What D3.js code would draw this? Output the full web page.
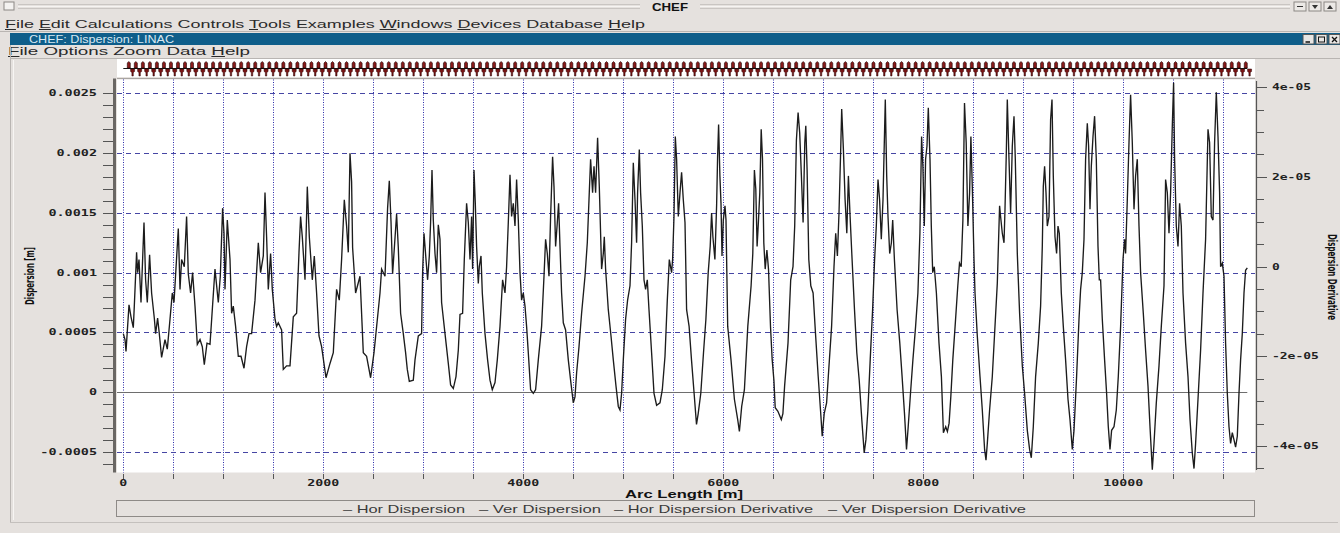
<!DOCTYPE html>
<html><head><meta charset="utf-8">
<script src="https://cdn.jsdelivr.net/npm/d3@7"></script>
<style>
html,body{margin:0;padding:0;background:#e5e1de;overflow:hidden}
svg{display:block}
</style></head><body>
<svg id="c" width="1340" height="533"></svg>
<script>
// ---------------- DATA ----------------
const arcLength = [0,17,27,57,77,100,110,133,143,157,177,207,223,240,263,283,310,323,343,360,383,417,440,467,490,507,
550,567,583,610,633,650,673,693,717,740,767,790,810,837,867,917,950,970,993,1007,1017,1040,1067,1083,1100,1123,1150,1177,1207,1233,1257,1283,
1317,1350,1373,1400,1417,1433,1450,1473,1490,1517,1533,1550,1583,1600,1633,1667,1700,1733,1757,1773,1790,1817,1840,1860,1890,1910,1933,1957,1983,
2027,2067,2100,2133,2160,2183,2210,2233,2250,2267,2283,2293,2323,2367,2400,2433,2473,2507,2567,2583,2617,2643,2660,2677,2693,2733,2750,2773,
2800,2823,2840,2860,2900,2917,2950,2983,2993,3007,3027,3043,3060,3073,3087,3100,3117,3133,3150,3167,3183,3217,3250,3273,3300,3327,3350,3367,3393,
3410,3433,3450,3467,3483,3493,3507,3520,3533,3550,3560,3577,3590,3617,3643,3667,3690,3717,3740,3767,3793,3817,3833,3850,3867,3883,3900,3917,3933,3950,3967,3983,
4000,4017,4033,4050,4073,4100,4123,4150,4183,4207,4223,4240,4257,4273,4293,4307,4323,4340,4353,4367,4383,4400,4423,4450,4473,4500,4517,4533,4557,4583,
4617,4640,4657,4673,4693,4707,4723,4743,4760,4773,4783,4800,4810,4823,4850,4877,4900,4927,4950,4967,4983,
5000,5023,5043,5067,5083,5100,5117,5133,5143,5160,5173,5190,5207,5223,5240,5257,5283,5307,5333,5367,5390,5417,5440,5460,5483,5493,5507,5520,5533,5550,5567,5583,5600,5617,5633,5658,
5682,5708,5732,5749,5775,5802,5826,5849,5869,5883,5896,5916,5933,5943,5953,5966,5977,5987,6000,6017,6027,6044,6077,6111,6144,6161,6184,6211,6245,6278,6295,
6311,6325,6338,6352,6365,6379,6392,6405,6419,6436,6452,6472,6489,6506,6519,6546,6580,6596,6613,6647,6674,6697,6714,6731,6748,6764,6781,6798,6815,6825,6838,6855,6875,6898,6922,6949,6976,6989,
7009,7033,7050,7083,7107,7124,7141,7157,7174,7184,7201,7218,7235,7251,7268,7285,7312,7335,7359,7385,7409,7426,7446,7469,7493,7513,7530,7547,7563,7580,7597,7610,7620,7634,7647,7664,7681,7694,7711,7738,7765,7788,7812,7832,7849,7872,7896,7923,7946,7966,7983,7996,
8010,8023,8037,8050,8067,8080,8094,8110,8131,8157,8181,8201,8224,8241,8258,8275,8295,8318,8345,8362,8379,8396,8412,8429,8446,8463,8476,8490,8507,8517,
8540,8567,8590,8613,8627,8640,8663,8690,8713,8740,8763,8773,8790,8807,8817,8830,8840,8857,8873,8890,8907,8920,8940,8963,8990,
9013,9040,9063,9080,9100,9123,9150,9173,9190,9200,9213,9227,9240,9257,9273,9287,9300,9317,9333,9347,9360,9380,9400,9423,9447,9467,9490,9507,9533,9557,9573,9590,
9607,9623,9640,9653,9667,9680,9697,9713,9730,9747,9760,9773,9790,9813,9833,9850,9867,9883,9907,9930,9950,9973,9997,
10013,10023,10040,10057,10073,10090,10107,10123,10140,10157,10173,10200,10223,10247,10267,10290,10307,10330,10357,10380,10407,10423,10440,10457,10473,10490,10503,10513,10530,10547,10563,10580,10597,
10623,10647,10667,10690,10707,10723,10747,10773,10797,10823,10847,10863,10880,10897,10913,10930,10947,10963,10973,10990,
11007,11023,11040,11057,11073,11090,11107,11123,11140,11157,11173,11190,11207,11223,11240];

const horDispersion = [0.49e-3,0.44e-3,0.34e-3,0.73e-3,0.63e-3,0.54e-3,0.72e-3,1.17e-3,1.00e-3,1.11e-3,0.75e-3,1.42e-3,0.94e-3,0.75e-3,1.15e-3,0.83e-3,0.62e-3,0.49e-3,0.62e-3,0.49e-3,0.29e-3,0.44e-3,0.36e-3,0.61e-3,0.83e-3,0.75e-3,
1.37e-3,0.86e-3,1.11e-3,1.05e-3,1.47e-3,0.99e-3,0.83e-3,1.00e-3,0.72e-3,0.40e-3,0.44e-3,0.38e-3,0.23e-3,0.41e-3,0.40e-3,1.03e-3,0.75e-3,0.97e-3,1.54e-3,1.33e-3,0.86e-3,1.44e-3,1.11e-3,0.66e-3,0.72e-3,0.55e-3,0.30e-3,0.30e-3,0.20e-3,0.38e-3,0.49e-3,0.49e-3,
0.77e-3,1.25e-3,1.00e-3,1.14e-3,1.67e-3,1.30e-3,0.86e-3,1.16e-3,0.86e-3,0.61e-3,0.55e-3,0.58e-3,0.52e-3,0.19e-3,0.22e-3,0.22e-3,0.63e-3,0.66e-3,1.17e-3,1.47e-3,1.30e-3,0.94e-3,1.72e-3,1.30e-3,0.94e-3,1.14e-3,0.83e-3,0.47e-3,0.38e-3,
0.12e-3,0.24e-3,0.33e-3,0.86e-3,0.77e-3,1.11e-3,1.61e-3,1.39e-3,1.17e-3,2.00e-3,1.76e-3,1.21e-3,0.83e-3,0.97e-3,0.33e-3,0.30e-3,0.12e-3,0.33e-3,0.83e-3,1.03e-3,0.97e-3,1.54e-3,1.77e-3,1.43e-3,0.99e-3,1.49e-3,1.21e-3,0.66e-3,
0.49e-3,0.33e-3,0.19e-3,0.09e-3,0.10e-3,0.27e-3,0.47e-3,0.49e-3,1.00e-3,1.33e-3,1.11e-3,0.94e-3,1.14e-3,1.42e-3,1.86e-3,1.44e-3,1.16e-3,1.00e-3,1.40e-3,1.28e-3,0.75e-3,0.49e-3,0.24e-3,0.06e-3,0.03e-3,0.13e-3,0.35e-3,0.65e-3,0.66e-3,
1.11e-3,1.58e-3,1.42e-3,1.11e-3,1.47e-3,1.03e-3,1.86e-3,1.58e-3,1.22e-3,0.91e-3,1.05e-3,1.14e-3,0.83e-3,0.49e-3,0.27e-3,0.10e-3,0.02e-3,0.08e-3,0.27e-3,0.55e-3,0.94e-3,0.83e-3,1.05e-3,1.42e-3,1.82e-3,1.47e-3,1.58e-3,1.39e-3,1.78e-3,1.44e-3,1.00e-3,0.77e-3,
0.83e-3,0.72e-3,0.55e-3,0.33e-3,0.02e-3,-0.01e-3,0.02e-3,0.27e-3,0.55e-3,0.97e-3,1.28e-3,1.16e-3,0.97e-3,1.47e-3,1.97e-3,1.72e-3,1.22e-3,1.42e-3,1.58e-3,1.22e-3,0.83e-3,0.58e-3,0.52e-3,0.27e-3,0.10e-3,-0.09e-3,-0.04e-3,0.16e-3,0.38e-3,0.66e-3,
0.97e-3,1.25e-3,1.61e-3,1.95e-3,1.67e-3,1.89e-3,1.67e-3,2.13e-3,1.72e-3,1.33e-3,1.03e-3,1.16e-3,1.30e-3,1.03e-3,0.69e-3,0.47e-3,0.27e-3,0.05e-3,-0.12e-3,-0.15e-3,-0.01e-3,
0.27e-3,0.61e-3,0.77e-3,0.89e-3,1.25e-3,1.92e-3,1.61e-3,1.25e-3,1.67e-3,2.03e-3,1.67e-3,1.39e-3,0.94e-3,0.86e-3,0.94e-3,0.69e-3,0.33e-3,-0.01e-3,-0.11e-3,-0.09e-3,0.02e-3,0.30e-3,0.77e-3,1.11e-3,1.00e-3,1.11e-3,1.47e-3,2.14e-3,1.95e-3,1.47e-3,1.67e-3,1.84e-3,1.61e-3,1.42e-3,0.69e-3,0.55e-3,
0.27e-3,-0.01e-3,-0.27e-3,-0.18e-3,-0.01e-3,0.33e-3,0.61e-3,1.00e-3,1.22e-3,1.50e-3,1.30e-3,1.11e-3,1.56e-3,1.97e-3,2.24e-3,1.81e-3,1.58e-3,1.14e-3,1.44e-3,1.56e-3,1.44e-3,0.55e-3,0.27e-3,-0.06e-3,-0.23e-3,-0.33e-3,-0.12e-3,0.02e-3,0.55e-3,0.89e-3,1.16e-3,
1.86e-3,1.70e-3,1.22e-3,1.44e-3,1.67e-3,2.20e-3,1.95e-3,1.25e-3,1.03e-3,1.19e-3,1.03e-3,0.55e-3,0.27e-3,0.10e-3,-0.13e-3,-0.16e-3,-0.23e-3,-0.18e-3,0.05e-3,0.41e-3,0.94e-3,1.05e-3,1.39e-3,2.11e-3,2.34e-3,2.17e-3,1.81e-3,1.42e-3,2.09e-3,2.23e-3,1.86e-3,1.11e-3,0.89e-3,0.83e-3,0.49e-3,0.13e-3,-0.20e-3,-0.37e-3,
-0.18e-3,-0.09e-3,0.13e-3,0.55e-3,1.05e-3,1.33e-3,1.14e-3,1.50e-3,2.03e-3,2.37e-3,2.03e-3,1.61e-3,1.33e-3,1.81e-3,1.47e-3,1.16e-3,0.69e-3,0.33e-3,0.10e-3,-0.23e-3,-0.51e-3,-0.40e-3,-0.15e-3,0.27e-3,0.69e-3,1.11e-3,1.39e-3,1.78e-3,1.61e-3,1.28e-3,1.61e-3,2.09e-3,2.45e-3,1.81e-3,1.47e-3,1.16e-3,1.25e-3,1.44e-3,1.11e-3,0.69e-3,0.41e-3,0.13e-3,-0.18e-3,-0.48e-3,-0.29e-3,-0.01e-3,0.27e-3,0.55e-3,0.83e-3,1.33e-3,2.14e-3,1.89e-3,
1.39e-3,1.95e-3,2.06e-3,2.38e-3,1.95e-3,1.39e-3,1.00e-3,1.05e-3,0.83e-3,0.41e-3,0.13e-3,-0.34e-3,-0.29e-3,-0.33e-3,-0.26e-3,-0.04e-3,0.27e-3,0.55e-3,0.89e-3,1.08e-3,1.05e-3,1.44e-3,2.42e-3,2.09e-3,1.39e-3,1.67e-3,2.14e-3,1.72e-3,1.11e-3,0.83e-3,
0.47e-3,0.13e-3,-0.15e-3,-0.48e-3,-0.57e-3,-0.43e-3,-0.15e-3,0.13e-3,0.49e-3,0.91e-3,1.56e-3,1.47e-3,1.33e-3,1.25e-3,1.53e-3,2.00e-3,2.45e-3,1.95e-3,1.50e-3,2.06e-3,2.31e-3,1.95e-3,1.16e-3,0.66e-3,0.22e-3,
-0.01e-3,-0.32e-3,-0.48e-3,-0.55e-3,-0.29e-3,0.13e-3,0.41e-3,0.72e-3,1.22e-3,1.72e-3,1.89e-3,1.67e-3,1.39e-3,1.47e-3,2.28e-3,2.45e-3,1.81e-3,1.30e-3,1.16e-3,1.39e-3,1.33e-3,0.83e-3,0.55e-3,0.27e-3,-0.06e-3,-0.23e-3,-0.48e-3,-0.32e-3,0.13e-3,0.61e-3,0.86e-3,1.00e-3,
1.28e-3,1.95e-3,2.25e-3,2.06e-3,1.53e-3,1.89e-3,2.14e-3,2.31e-3,1.95e-3,1.22e-3,0.94e-3,0.94e-3,0.61e-3,0.27e-3,-0.01e-3,-0.29e-3,-0.48e-3,-0.32e-3,-0.29e-3,-0.15e-3,0.13e-3,0.55e-3,1.11e-3,
1.28e-3,1.16e-3,1.61e-3,2.09e-3,2.49e-3,2.09e-3,1.53e-3,1.81e-3,1.95e-3,1.39e-3,1.00e-3,0.66e-3,0.35e-3,0.05e-3,-0.29e-3,-0.65e-3,-0.43e-3,-0.09e-3,0.22e-3,0.55e-3,0.89e-3,1.78e-3,1.67e-3,1.33e-3,1.67e-3,2.23e-3,2.59e-3,1.95e-3,1.39e-3,1.22e-3,1.58e-3,1.39e-3,0.83e-3,
0.41e-3,0.13e-3,-0.23e-3,-0.51e-3,-0.64e-3,-0.43e-3,-0.06e-3,0.35e-3,0.83e-3,1.28e-3,2.20e-3,2.09e-3,1.47e-3,1.44e-3,2.09e-3,2.51e-3,2.14e-3,1.67e-3,1.05e-3,1.08e-3,
0.97e-3,0.41e-3,-0.01e-3,-0.29e-3,-0.43e-3,-0.34e-3,-0.40e-3,-0.46e-3,-0.37e-3,-0.01e-3,0.27e-3,0.49e-3,0.83e-3,1.02e-3,1.04e-3];

const verDispersionS = [0, 11240];
const verDispersion = [0, 0];

const xTickValues = [0, 2000, 4000, 6000, 8000, 10000];
const xTickLabels = ["0", "2000", "4000", "6000", "8000", "10000"];
const leftTickValues = [-0.0005, 0, 0.0005, 0.001, 0.0015, 0.002, 0.0025];
const leftTickLabels = ["-0.0005", "0", "0.0005", "0.001", "0.0015", "0.002", "0.0025"];
const rightTickValues = [-4e-5, -2e-5, 0, 2e-5, 4e-5];
const rightTickLabels = ["-4e-05", "-2e-05", "0", "2e-05", "4e-05"];
const legendItems = ["Hor Dispersion", "Ver Dispersion", "Hor Dispersion Derivative", "Ver Dispersion Derivative"];
const mainMenu = ["File", "Edit", "Calculations", "Controls", "Tools", "Examples", "Windows", "Devices", "Database", "Help"];
const mainMenuUnderlined = [true, true, false, false, true, false, true, true, false, true];
const plotMenu = ["File", "Options", "Zoom", "Data", "Help"];
const plotMenuUnderlined = [true, false, false, false, true];

// ---------------- LAYOUT ----------------
const svg = d3.select("#c");
const W = 1340, H = 533;
const P = {l: 117, r: 1255, t: 79.5, b: 472.5};
const BG = "#e5e1de";

const x = d3.scaleLinear().domain([-63, 11317]).range([P.l, P.r]);
const yL = d3.scaleLinear().domain([-0.000673, 0.002617]).range([P.b, P.t]);
const yR = d3.scaleLinear().domain([-4.59e-5, 4.17e-5]).range([P.b, P.t]);

svg.append("rect").attr("width", W).attr("height", H).attr("fill", BG);

function stretchText(g, str, opts) {
  const t = g.append("text")
    .attr("x", opts.x).attr("y", opts.y)
    .attr("font-family", opts.family || "Liberation Sans, Arial, sans-serif")
    .attr("font-size", opts.size || 11)
    .attr("font-weight", opts.weight || "normal")
    .attr("fill", opts.fill || "#222")
    .attr("text-anchor", opts.anchor || "start")
    .text(str);
  if (opts.len) t.attr("textLength", opts.len).attr("lengthAdjust", "spacingAndGlyphs");
  if (opts.transform) t.attr("transform", opts.transform);
  return t;
}

// ---------- window chrome ----------
const chrome = svg.append("g");
chrome.append("rect").attr("x", 4).attr("y", 2).attr("width", 10).attr("height", 8)
  .attr("fill", "#f4f2f0").attr("stroke", "#8c8884");
[4, 6, 8].forEach(dy => {
  chrome.append("line").attr("x1", 18).attr("x2", 640).attr("y1", dy + 0.5).attr("y2", dy + 0.5)
    .attr("stroke", dy === 6 ? "#f6f4f2" : "#c9c5c2");
  chrome.append("line").attr("x1", 700).attr("x2", 1290).attr("y1", dy + 0.5).attr("y2", dy + 0.5)
    .attr("stroke", dy === 6 ? "#f6f4f2" : "#c9c5c2");
});
stretchText(chrome, "CHEF", {x: 670, y: 11, size: 10, weight: "bold", anchor: "middle", len: 36, fill: "#111"});
[1294, 1309, 1324].forEach((bx, i) => {
  chrome.append("rect").attr("x", bx).attr("y", 2).attr("width", 12).attr("height", 9)
    .attr("fill", "#ece9e6").attr("stroke", "#8c8884");
  if (i === 0) chrome.append("line").attr("x1", bx + 3).attr("x2", bx + 9).attr("y1", 6.5).attr("y2", 6.5).attr("stroke", "#333");
  else chrome.append("path").attr("d", i === 1 ? `M${bx+3},5 L${bx+9},5 L${bx+6},9 Z` : `M${bx+3},9 L${bx+9},9 L${bx+6},5 Z`).attr("fill", "#333");
});

function drawMenu(items, underl, x0, xEnd, yBase) {
  const t = chrome.append("text").attr("x", x0).attr("y", yBase)
    .attr("font-family", "Liberation Sans, Arial, sans-serif").attr("font-size", 10)
    .attr("fill", "#2a2a2a").attr("textLength", xEnd - x0).attr("lengthAdjust", "spacingAndGlyphs");
  items.forEach((it, i) => {
    if (underl[i]) {
      t.append("tspan").attr("text-decoration", "underline").text(it[0]);
      t.append("tspan").text(it.slice(1) + (i < items.length - 1 ? " " : ""));
    } else {
      t.append("tspan").text(it + (i < items.length - 1 ? " " : ""));
    }
  });
}
drawMenu(mainMenu, mainMenuUnderlined, 5, 645, 28);
chrome.append("line").attr("x1", 0).attr("x2", W).attr("y1", 31.5).attr("y2", 31.5).attr("stroke", "#b9b5b2");

chrome.append("rect").attr("x", 10).attr("y", 33).attr("width", W - 10).attr("height", 12).attr("fill", "#0f5e8a");
stretchText(chrome, "CHEF: Dispersion: LINAC", {x: 29, y: 43, size: 10.5, fill: "#d8e8f2", len: 145});
[1303, 1316, 1329].forEach((bx, i) => {
  chrome.append("rect").attr("x", bx).attr("y", 34.5).attr("width", 11).attr("height", 9.5)
    .attr("fill", "#e8e6e4").attr("stroke", "#555");
  if (i === 0) chrome.append("line").attr("x1", bx + 2.5).attr("x2", bx + 7).attr("y1", 42).attr("y2", 42).attr("stroke", "#111").attr("stroke-width", 1.5);
  if (i === 1) chrome.append("rect").attr("x", bx + 2.5).attr("y", 37).attr("width", 6).attr("height", 5).attr("fill", "none").attr("stroke", "#111");
  if (i === 2) chrome.append("path").attr("d", `M${bx+3},37 L${bx+8},42 M${bx+8},37 L${bx+3},42`).attr("stroke", "#111").attr("stroke-width", 1.3);
});
drawMenu(plotMenu, plotMenuUnderlined, 8, 250, 55);
chrome.append("line").attr("x1", 10).attr("x2", W).attr("y1", 58.5).attr("y2", 58.5).attr("stroke", "#b9b5b2");
chrome.append("line").attr("x1", 10.5).attr("x2", 10.5).attr("y1", 45).attr("y2", 522).attr("stroke", "#b9b5b2");
chrome.append("line").attr("x1", 13.5).attr("x2", 13.5).attr("y1", 60).attr("y2", 520).attr("stroke", "#f7f5f3");
chrome.append("line").attr("x1", 10).attr("x2", 1338).attr("y1", 522.5).attr("y2", 522.5).attr("stroke", "#c4c0bd");

// ---------- lattice strip ----------
const strip = svg.append("g");
strip.append("rect").attr("x", P.l).attr("y", 59).attr("width", P.r - P.l).attr("height", 18).attr("fill", "#ffffff");
strip.append("line").attr("x1", x(0)).attr("x2", x(11240)).attr("y1", 68.5).attr("y2", 68.5).attr("stroke", "#111").attr("stroke-width", 1);
const cellLength = 70.25; // lattice cell length [m]
const latticeCells = d3.range(0, 160);
latticeCells.forEach(i => {
  const s0 = 40 + i * cellLength;
  const xs = x(s0);
  // focusing element above the beam line
  strip.append("path").attr("d", `M${xs},68 L${xs},63 L${xs+1.5},61.5 L${xs+3},63 L${xs+3},68 Z`)
    .attr("fill", "#8a1a1a").attr("stroke", "#1a0505").attr("stroke-width", 0.6);
  // defocusing element below the beam line
  strip.append("path").attr("d", `M${xs+3.3},69 L${xs+7.3},69 L${xs+7.3},71.5 L${xs+6},72.5 L${xs+6},76 L${xs+4.6},76 L${xs+4.6},72.5 L${xs+3.3},71.5 Z`)
    .attr("fill", "#7a1414").attr("stroke", "#2a0606").attr("stroke-width", 0.5);
});

// ---------- plot area ----------
const plot = svg.append("g");
plot.append("rect").attr("x", P.l).attr("y", P.t).attr("width", P.r - P.l).attr("height", P.b - P.t)
  .attr("fill", "#ffffff");
plot.append("line").attr("x1", P.l).attr("x2", P.r).attr("y1", P.t - 1).attr("y2", P.t - 1).attr("stroke", "#a9a5a2");

const vGrid = d3.range(0, 11001, 500);
plot.selectAll(".vg").data(vGrid).enter().append("line")
  .attr("x1", d => Math.round(x(d)) + 0.5).attr("x2", d => Math.round(x(d)) + 0.5)
  .attr("y1", P.t).attr("y2", P.b)
  .attr("stroke", "#2c2ca8").attr("stroke-width", 1).attr("stroke-dasharray", "1,1.5");
plot.selectAll(".hg").data(leftTickValues.filter(v => v !== 0)).enter().append("line")
  .attr("x1", P.l).attr("x2", P.r)
  .attr("y1", d => Math.round(yL(d)) + 0.5).attr("y2", d => Math.round(yL(d)) + 0.5)
  .attr("stroke", "#4646a4").attr("stroke-width", 1).attr("stroke-dasharray", "5,4");

plot.append("line").attr("x1", P.l).attr("x2", x(verDispersionS[1]))
  .attr("y1", Math.round(yL(verDispersion[0])) + 0.5).attr("y2", Math.round(yL(verDispersion[1])) + 0.5)
  .attr("stroke", "#6e6e6e").attr("stroke-width", 1);

const line = d3.line().x((d, i) => x(arcLength[i])).y(d => yL(d));
plot.append("path").datum(horDispersion).attr("d", line)
  .attr("fill", "none").attr("stroke", "#1c1c1c").attr("stroke-width", 1.35).attr("stroke-linejoin", "miter");

// ---------- axes ----------
const ax = svg.append("g");
const monoFamily = "DejaVu Sans Mono, Liberation Mono, monospace";
ax.append("rect").attr("x", 113).attr("y", P.t - 1).attr("width", 3).attr("height", P.b - P.t + 1).attr("fill", "#6a6764");
const leftMinor = d3.range(-6, 26).map(k => k * 0.0001);
ax.selectAll(".lm").data(leftMinor).enter().append("line")
  .attr("x1", d => (Math.abs(Math.round(d * 20000) - d * 20000) < 1e-6) ? 103 : 108).attr("x2", 113)
  .attr("y1", d => Math.round(yL(d)) + 0.5).attr("y2", d => Math.round(yL(d)) + 0.5)
  .attr("stroke", "#555");
leftTickValues.forEach((v, i) => {
  stretchText(ax, leftTickLabels[i], {x: 97, y: yL(v) + 3, size: 8.5, weight: "bold", family: monoFamily,
    anchor: "end", len: leftTickLabels[i].length * 8.1, fill: "#222"});
});
stretchText(ax, "Dispersion [m]", {x: 0, y: 0, size: 13, weight: "bold", family: "DejaVu Sans Condensed, DejaVu Sans, sans-serif",
  anchor: "middle", len: 58, fill: "#111", transform: "translate(34,276) rotate(-90)"});

ax.append("line").attr("x1", 1256.5).attr("x2", 1256.5).attr("y1", 81).attr("y2", 470).attr("stroke", "#555").attr("stroke-width", 1.2);
const rightMinor = d3.range(-9, 9).map(k => k * 5e-6);
ax.selectAll(".rm").data(rightMinor).enter().append("line")
  .attr("x1", 1257).attr("x2", (d, i) => ((i - 9 + 100) % 4 === 0) ? 1267 : 1264)
  .attr("y1", d => Math.round(yR(d)) + 0.5).attr("y2", d => Math.round(yR(d)) + 0.5)
  .attr("stroke", "#555");
rightTickValues.forEach((v, i) => {
  stretchText(ax, rightTickLabels[i], {x: 1272, y: yR(v) + 3, size: 8.5, weight: "bold", family: monoFamily,
    anchor: "start", len: rightTickLabels[i].length * 7.8, fill: "#222"});
});
stretchText(ax, "Dispersion Derivative", {x: 0, y: 0, size: 13, weight: "bold", family: "DejaVu Sans Condensed, DejaVu Sans, sans-serif",
  anchor: "middle", len: 86, fill: "#111", transform: "translate(1328,277) rotate(90)"});

ax.selectAll(".xt").data(vGrid).enter().append("line")
  .attr("x1", d => Math.round(x(d)) + 0.5).attr("x2", d => Math.round(x(d)) + 0.5)
  .attr("y1", 474).attr("y2", 479).attr("stroke", "#555");
xTickValues.forEach((v, i) => {
  stretchText(ax, xTickLabels[i], {x: x(v), y: 486, size: 8.5, weight: "bold", family: monoFamily,
    anchor: "middle", len: xTickLabels[i].length * 8, fill: "#222"});
});
stretchText(ax, "Arc Length [m]", {x: 684, y: 498, size: 11, weight: "bold", anchor: "middle", len: 118, fill: "#111"});

// ---------- legend ----------
const lg = svg.append("g");
lg.append("rect").attr("x", 116.5).attr("y", 500.5).attr("width", 1138).attr("height", 16)
  .attr("fill", BG).attr("stroke", "#8e8a87");
const legendX = [343, 479, 614, 828];
const legendLen = [122, 122, 199, 198];
legendItems.forEach((it, i) => {
  stretchText(lg, "\u2013 " + it, {x: legendX[i], y: 512.5, size: 10.5, fill: "#3a3a3a", len: legendLen[i]});
});
</script>
</body></html>
